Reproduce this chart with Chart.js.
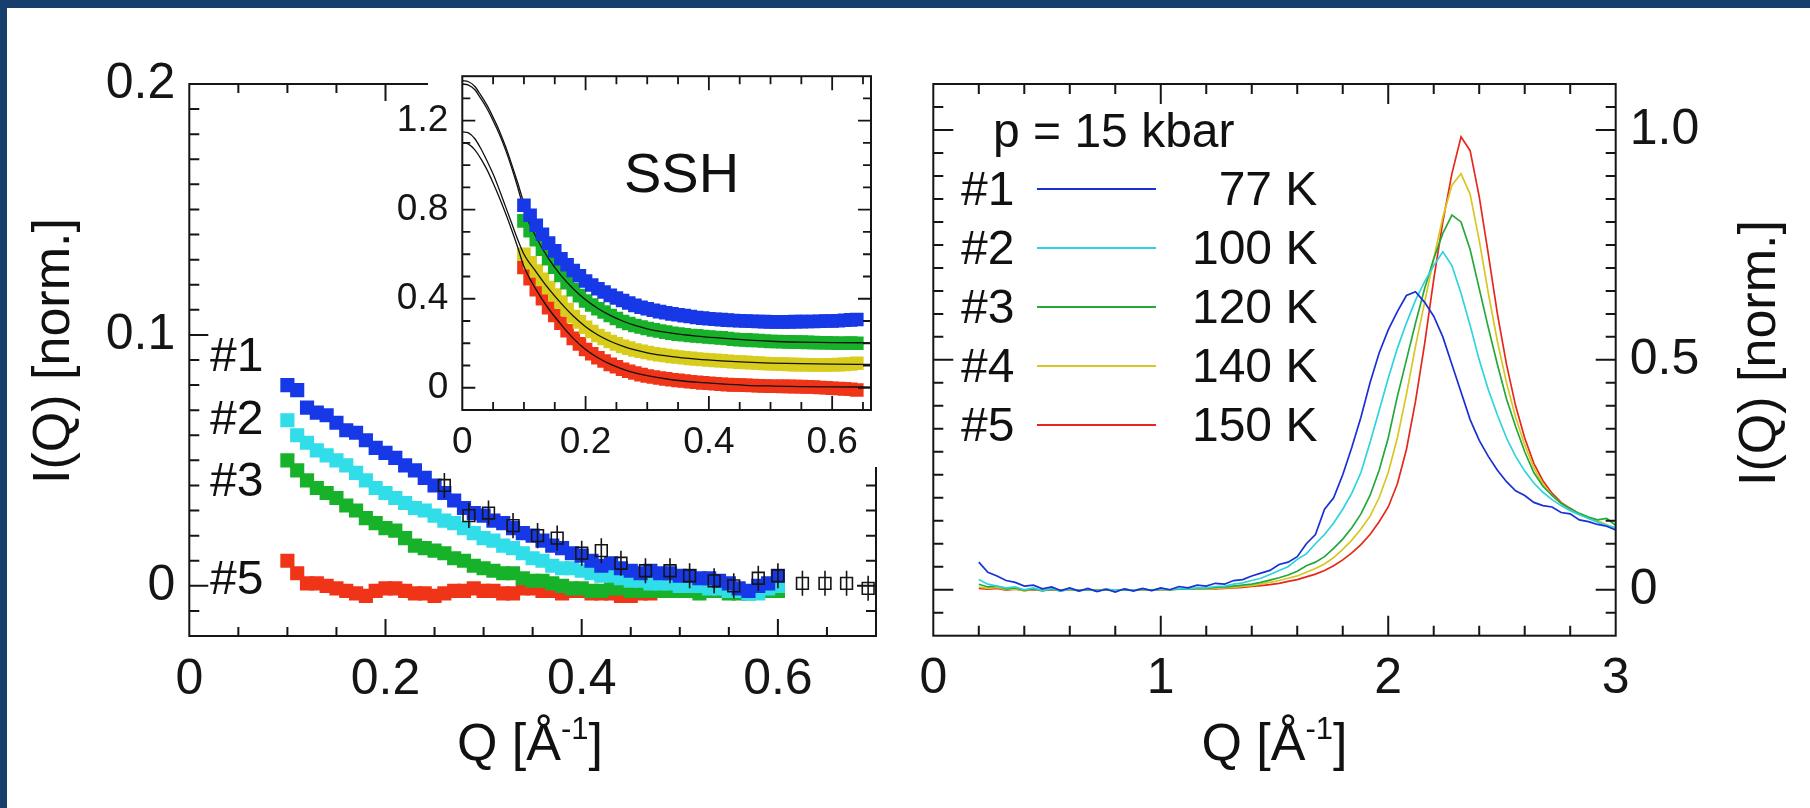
<!DOCTYPE html>
<html>
<head>
<meta charset="utf-8">
<script src="https://cdn.jsdelivr.net/npm/chart.js@4.4.1/dist/chart.umd.min.js"></script>
<style>
html,body{margin:0;padding:0;background:#fff;width:1810px;height:808px;overflow:hidden;font-family:"Liberation Sans",Arial,Helvetica,sans-serif;}
#bandTop{position:absolute;left:0;top:0;width:1810px;height:8px;background:#163f6c;z-index:5}
#bandLeft{position:absolute;left:0;top:0;width:7px;height:808px;background:#163f6c;z-index:5}
canvas{position:absolute}
.t{position:absolute;white-space:nowrap;line-height:1;color:#111;z-index:4}
.sw{position:absolute;height:2px;z-index:4}
</style>
</head>
<body>
<div id="bandTop"></div><div id="bandLeft"></div>
<canvas id="cMain" width="790" height="690" style="left:100px;top:40px;z-index:1"></canvas>
<canvas id="cInset" width="500" height="427" style="left:380px;top:40px;z-index:2"></canvas>
<canvas id="cRight" width="820" height="690" style="left:900px;top:40px;z-index:1"></canvas>
<div id="overlay"></div>
<script>
const FONT = '"Liberation Sans", Arial, Helvetica, sans-serif';

// ---------- Left panel (main): I(Q) [norm.] vs Q ----------
const mainQ = [0.10,0.11,0.12,0.13,0.14,0.15,0.16,0.17,0.18,0.19,0.20,0.21,0.22,0.23,0.24,0.25,0.26,0.27,0.28,0.29,0.30,0.31,0.32,0.33,0.34,0.35,0.36,0.37,0.38,0.39,0.40,0.41,0.42,0.43,0.44,0.45,0.46,0.47,0.48,0.49,0.50,0.51,0.52,0.53,0.54,0.55,0.56,0.57,0.58,0.59,0.60];
const mainS1 = [0.080,0.078,0.071,0.069,0.068,0.065,0.062,0.061,0.058,0.055,0.053,0.051,0.048,0.046,0.043,0.040,0.037,0.034,0.031,0.029,0.028,0.026,0.025,0.023,0.021,0.020,0.018,0.016,0.015,0.013,0.012,0.010,0.008,0.009,0.007,0.006,0.005,0.006,0.005,0.005,0.004,0.004,0.003,0.003,0.002,0.001,-0.001,-0.002,0.000,0.001,0.004];
const mainS2 = [0.066,0.060,0.057,0.054,0.052,0.050,0.048,0.045,0.042,0.039,0.037,0.035,0.033,0.031,0.030,0.028,0.026,0.025,0.023,0.021,0.019,0.018,0.016,0.015,0.013,0.011,0.010,0.008,0.007,0.007,0.006,0.005,0.004,0.004,0.003,0.002,0.002,0.001,0.001,0.001,0.000,0.000,0.000,-0.001,-0.001,-0.002,-0.002,-0.003,-0.003,-0.001,0.000];
const mainS3 = [0.050,0.046,0.042,0.039,0.037,0.035,0.032,0.030,0.027,0.025,0.023,0.022,0.019,0.016,0.015,0.014,0.013,0.011,0.010,0.008,0.007,0.006,0.005,0.005,0.003,0.002,0.002,0.001,0.000,-0.001,-0.001,-0.002,-0.002,-0.001,-0.001,-0.002,-0.002,-0.002,-0.002,-0.002,-0.002,-0.002,-0.003,-0.002,-0.002,-0.003,-0.003,-0.003,-0.002,-0.002,-0.002];
const mainS5 = [0.010,0.005,0.001,0.001,0.000,-0.001,-0.002,-0.003,-0.004,-0.002,-0.001,-0.001,-0.002,-0.003,-0.003,-0.004,-0.003,-0.002,-0.002,-0.001,-0.002,-0.002,-0.003,-0.003,-0.001,-0.001,-0.002,-0.002,-0.003,-0.002,-0.002,-0.003,-0.003,-0.003,-0.004,-0.004,-0.003,-0.003,-0.002,-0.002,-0.002];
const refQ   = [0.260,0.285,0.305,0.330,0.355,0.375,0.400,0.420,0.440,0.465,0.490,0.510,0.535,0.555,0.580,0.600,0.625,0.648,0.670,0.692];
const refI   = [0.040,0.028,0.029,0.024,0.020,0.019,0.013,0.014,0.009,0.006,0.006,0.004,0.002,0.000,0.003,0.004,0.001,0.001,0.001,-0.001];
const refErr = [0.005,0.005,0.005,0.005,0.005,0.005,0.005,0.005,0.005,0.005,0.005,0.005,0.005,0.005,0.005,0.005,0.005,0.005,0.005,0.005];
const mainXTickVals = [0,0.2,0.4,0.6];       const mainXTickText = ['0','0.2','0.4','0.6'];
const mainYTickVals = [0,0.1,0.2];           const mainYTickText = ['0','0.1','0.2'];
const mainTags = ['#1','#2','#3','#5'];

// ---------- Inset (SSH) ----------
const insetQ  = [0.10,0.11,0.12,0.13,0.14,0.15,0.16,0.17,0.18,0.19,0.20,0.21,0.22,0.23,0.24,0.25,0.26,0.27,0.28,0.29,0.30,0.31,0.32,0.33,0.34,0.35,0.36,0.37,0.38,0.39,0.40,0.41,0.42,0.43,0.44,0.45,0.46,0.47,0.48,0.49,0.50,0.51,0.52,0.53,0.54,0.55,0.56,0.57,0.58,0.59,0.60,0.61,0.62,0.63,0.64];
const insetS1 = [0.82,0.775,0.73,0.69,0.65,0.615,0.58,0.553,0.527,0.503,0.48,0.462,0.445,0.43,0.415,0.403,0.392,0.381,0.37,0.362,0.355,0.348,0.342,0.337,0.332,0.328,0.324,0.32,0.316,0.313,0.31,0.308,0.306,0.304,0.302,0.301,0.30,0.299,0.298,0.297,0.296,0.296,0.296,0.296,0.297,0.297,0.298,0.298,0.299,0.30,0.30,0.301,0.303,0.305,0.307];
const insetS3 = [0.75,0.706,0.665,0.622,0.58,0.542,0.505,0.472,0.44,0.414,0.39,0.372,0.355,0.34,0.325,0.311,0.298,0.289,0.28,0.273,0.266,0.26,0.255,0.25,0.245,0.241,0.238,0.235,0.233,0.23,0.228,0.226,0.224,0.221,0.218,0.216,0.215,0.213,0.212,0.21,0.208,0.208,0.207,0.206,0.205,0.205,0.204,0.203,0.202,0.202,0.201,0.200,0.200,0.201,0.200];
const insetS4 = [0.60,0.562,0.525,0.487,0.45,0.417,0.385,0.352,0.32,0.296,0.272,0.253,0.235,0.221,0.208,0.197,0.186,0.178,0.17,0.164,0.158,0.153,0.149,0.145,0.141,0.138,0.135,0.132,0.129,0.127,0.125,0.123,0.121,0.119,0.117,0.115,0.114,0.112,0.111,0.109,0.108,0.107,0.106,0.105,0.104,0.104,0.103,0.102,0.102,0.102,0.103,0.104,0.105,0.107,0.110];
const insetS5 = [0.54,0.49,0.44,0.40,0.36,0.325,0.29,0.256,0.222,0.197,0.172,0.153,0.135,0.12,0.105,0.094,0.083,0.074,0.066,0.059,0.053,0.048,0.044,0.04,0.036,0.033,0.03,0.027,0.025,0.022,0.02,0.018,0.016,0.014,0.013,0.012,0.011,0.01,0.009,0.008,0.007,0.007,0.006,0.006,0.005,0.005,0.004,0.003,0.001,0.000,-0.002,-0.003,-0.005,-0.007,-0.010];
const fitQ  = [0,0.01,0.02,0.03,0.04,0.05,0.06,0.07,0.08,0.09,0.10,0.12,0.14,0.16,0.18,0.20,0.22,0.24,0.26,0.28,0.30,0.34,0.38,0.42,0.46,0.50,0.55,0.60,0.663];
const fitS1 = [1.38,1.375,1.355,1.315,1.27,1.215,1.155,1.085,1.005,0.92,0.83,0.72,0.645,0.58,0.527,0.482,0.446,0.416,0.392,0.372,0.356,0.333,0.318,0.308,0.302,0.299,0.298,0.298,0.298];
const fitS3 = [1.365,1.36,1.34,1.30,1.255,1.20,1.14,1.07,0.99,0.90,0.80,0.675,0.58,0.505,0.445,0.395,0.356,0.325,0.30,0.28,0.265,0.245,0.232,0.223,0.215,0.209,0.205,0.203,0.202];
const fitS4 = [1.15,1.145,1.12,1.075,1.02,0.96,0.89,0.815,0.74,0.665,0.60,0.52,0.445,0.38,0.322,0.274,0.237,0.209,0.187,0.17,0.157,0.14,0.129,0.121,0.115,0.111,0.108,0.106,0.105];
const fitS5 = [1.10,1.095,1.07,1.03,0.98,0.92,0.855,0.785,0.71,0.63,0.545,0.44,0.355,0.285,0.222,0.172,0.135,0.106,0.084,0.067,0.054,0.036,0.025,0.017,0.011,0.008,0.005,0.004,0.003];
const insetXTickVals = [0,0.2,0.4,0.6];      const insetXTickText = ['0','0.2','0.4','0.6'];
const insetYTickVals = [0,0.4,0.8,1.2];      const insetYTickText = ['0','0.4','0.8','1.2'];
const insetTitle = 'SSH';

// ---------- Right panel: p = 15 kbar ----------
const rightQ = [0.20,0.24,0.28,0.32,0.36,0.40,0.44,0.48,0.52,0.56,0.60,0.64,0.68,0.72,0.76,0.80,0.84,0.88,0.92,0.96,1.00,1.04,1.08,1.12,1.16,1.20,1.24,1.28,1.32,1.36,1.40,1.44,1.48,1.52,1.56,1.60,1.64,1.68,1.72,1.76,1.80,1.84,1.88,1.92,1.96,2.00,2.04,2.08,2.12,2.16,2.20,2.24,2.28,2.32,2.36,2.40,2.44,2.48,2.52,2.56,2.60,2.64,2.68,2.72,2.76,2.80,2.84,2.88,2.92,2.96,3.00];
const right1 = [0.060,0.038,0.030,0.020,0.016,0.008,0.010,0.002,0.006,-0.002,0.004,-0.003,0.003,-0.004,0.001,-0.005,0.002,-0.003,0.003,-0.002,0.004,0.000,0.007,0.004,0.010,0.008,0.014,0.012,0.020,0.022,0.030,0.036,0.042,0.055,0.060,0.072,0.100,0.120,0.175,0.200,0.250,0.310,0.375,0.450,0.515,0.565,0.605,0.640,0.648,0.625,0.595,0.550,0.490,0.430,0.370,0.325,0.290,0.260,0.235,0.215,0.205,0.190,0.183,0.180,0.168,0.165,0.152,0.148,0.142,0.138,0.130];
const right2 = [0.022,0.012,0.008,0.004,0.006,0.000,0.004,-0.002,0.003,-0.003,0.002,-0.002,0.001,-0.003,0.002,-0.002,0.001,-0.001,0.002,-0.002,0.002,0.000,0.003,0.002,0.004,0.004,0.007,0.008,0.012,0.015,0.020,0.025,0.033,0.042,0.050,0.066,0.078,0.100,0.120,0.145,0.175,0.210,0.255,0.320,0.390,0.460,0.525,0.580,0.630,0.670,0.705,0.735,0.705,0.645,0.575,0.500,0.435,0.380,0.330,0.290,0.258,0.232,0.212,0.196,0.183,0.172,0.163,0.155,0.147,0.140,0.135];
const right3 = [0.012,0.006,0.008,0.002,0.004,-0.001,0.002,-0.002,0.001,-0.002,0.001,-0.002,0.000,-0.002,0.001,-0.002,0.000,-0.001,0.001,-0.001,0.001,0.000,0.002,0.001,0.003,0.003,0.005,0.006,0.008,0.010,0.012,0.016,0.021,0.026,0.032,0.040,0.052,0.060,0.072,0.090,0.110,0.135,0.165,0.205,0.260,0.330,0.420,0.500,0.580,0.655,0.720,0.775,0.815,0.800,0.740,0.655,0.570,0.490,0.415,0.355,0.300,0.255,0.225,0.205,0.188,0.176,0.166,0.158,0.152,0.155,0.140];
const right4 = [0.006,0.003,0.005,0.000,0.002,-0.002,0.001,-0.002,0.001,-0.002,0.000,-0.002,0.000,-0.001,0.001,-0.002,0.000,-0.001,0.000,-0.001,0.001,0.000,0.001,0.001,0.002,0.002,0.003,0.004,0.005,0.007,0.009,0.012,0.016,0.020,0.025,0.030,0.038,0.046,0.056,0.070,0.088,0.108,0.132,0.160,0.200,0.255,0.330,0.425,0.530,0.625,0.720,0.810,0.880,0.905,0.860,0.760,0.645,0.540,0.450,0.375,0.315,0.265,0.230,0.205,0.188,0.175,0.165,0.156,0.150,0.142,0.132];
const right5 = [0.003,0.001,0.003,-0.001,0.001,-0.002,0.000,-0.002,0.000,-0.002,0.000,-0.001,0.000,-0.001,0.000,-0.002,0.000,-0.001,0.000,-0.001,0.000,0.000,0.001,0.001,0.001,0.002,0.002,0.003,0.004,0.005,0.007,0.009,0.011,0.014,0.018,0.022,0.028,0.034,0.042,0.052,0.065,0.080,0.098,0.120,0.148,0.180,0.230,0.305,0.410,0.535,0.675,0.800,0.905,0.985,0.955,0.855,0.730,0.600,0.490,0.400,0.330,0.275,0.237,0.210,0.190,0.177,0.165,0.156,0.148,0.140,0.132];
const rightXTickVals = [0,1,2,3];            const rightXTickText = ['0','1','2','3'];
const rightYTickVals = [0,0.5,1.0];          const rightYTickText = ['0','0.5','1.0'];
const rightTags  = ['#1','#2','#3','#4','#5'];
const rightTemps = ['77 K','100 K','120 K','140 K','150 K'];
const rightHeader = 'p = 15 kbar';

// ---------- styles ----------
const COL = {blue:'#1638e6', cyan:'#30dde8', green:'#18b22a', yellow:'#d8cc1c', red:'#f03418'};
const LCOL = ['#1a30d6','#2fd3de','#25a83a','#d8c622','#e6281c'];
const INK = '#151515';

function pts(xs, ys){ return ys.map((v,i)=>({x:xs[i], y:v})); }
function tickText(vals, texts){
  return v => { for (let i=0;i<vals.length;i++) if (Math.abs(v-vals[i])<1e-7) return texts[i]; return ''; };
}
function isMult(v, step){ const r = v/step; return Math.abs(r-Math.round(r))<1e-6; }

function framePlugin(o){
  return {
    id:'frame_'+o.name,
    beforeDraw(chart){
      if (!o.bg) return;
      const c = chart.ctx; c.save(); c.fillStyle='#fff';
      c.fillRect(o.bg.x, 0, chart.width-o.bg.x, o.bg.h); c.restore();
    },
    afterDatasetsDraw(chart){
      const ctx = chart.ctx, a = chart.chartArea;
      const xs = chart.scales.x, ys = chart.scales.y;
      ctx.save();
      if (o.errors) o.errors(chart, ctx);
      ctx.strokeStyle = INK; ctx.lineWidth = o.lw; ctx.lineCap='butt';
      ctx.beginPath();
      xs.ticks.forEach(t=>{
        const p = xs.getPixelForValue(t.value);
        if (p-a.left<2 || a.right-p<2) return;
        const L = isMult(t.value, o.xMajor) ? o.xMaj : o.xMin;
        ctx.moveTo(p,a.bottom); ctx.lineTo(p,a.bottom-L);
        ctx.moveTo(p,a.top); ctx.lineTo(p,a.top+L);
      });
      ys.ticks.forEach(t=>{
        const p = ys.getPixelForValue(t.value);
        if (p-a.top<2 || a.bottom-p<2) return;
        const L = isMult(t.value, o.yMajor) ? o.yMaj : o.yMin;
        ctx.moveTo(a.left,p); ctx.lineTo(a.left+L,p);
        ctx.moveTo(a.right,p); ctx.lineTo(a.right-L,p);
      });
      ctx.stroke();
      ctx.lineWidth = o.frameW;
      ctx.strokeRect(a.left, a.top, a.right-a.left, a.bottom-a.top);
      ctx.restore();
    }
  };
}

function baseOptions(o){
  return {
    responsive:false, animation:false, devicePixelRatio:1, events:[],
    layout:{padding:o.padding, autoPadding:false},
    plugins:{legend:{display:false}, tooltip:{enabled:false}},
    scales:{
      x:{type:'linear', min:o.xMin, max:o.xMax, bounds:'data',
         grid:{display:false, drawTicks:false}, border:{display:false},
         ticks:{stepSize:o.xStep, autoSkip:false, maxRotation:0, includeBounds:false, padding:o.xPad, color:INK,
                font:{family:FONT, size:o.font, lineHeight:1.2}, callback:tickText(o.xVals,o.xText)},
         afterFit:s=>{s.height=o.xH;}},
      y:{type:'linear', position:o.yPos||'left', min:o.yMin, max:o.yMax,
         grid:{display:false, drawTicks:false}, border:{display:false},
         ticks:{stepSize:o.yStep, autoSkip:false, includeBounds:false, padding:o.yPad, color:INK,
                font:{family:FONT, size:o.font, lineHeight:1.2}, callback:tickText(o.yVals,o.yText)},
         afterFit:s=>{s.width=o.yW;}}
    }
  };
}

// ---------- main chart ----------
const sq = (data,color,r,order)=>({data, pointStyle:'rect', pointRadius:r, pointHoverRadius:r,
  backgroundColor:color, borderWidth:0, showLine:false, order});
new Chart(document.getElementById('cMain'), {
  type:'scatter',
  data:{datasets:[
    {label:'reference', data:pts(refQ,refI), pointStyle:'rect', pointRadius:8.3, backgroundColor:'rgba(0,0,0,0)',
     borderColor:INK, borderWidth:1.6, order:0},
    Object.assign(sq(pts(mainQ,mainS1),COL.blue,10,1),{label:'#1'}),
    Object.assign(sq(pts(mainQ,mainS2),COL.cyan,10,2),{label:'#2'}),
    Object.assign(sq(pts(mainQ,mainS3),COL.green,10,3),{label:'#3'}),
    Object.assign(sq(pts(mainQ,mainS5),COL.red,10,4),{label:'#5'})
  ]},
  options:baseOptions({padding:{left:0,top:34,right:9,bottom:0}, xMin:0,xMax:0.7,xStep:0.05,yMin:-0.02,yMax:0.2,yStep:0.01,
    xVals:mainXTickVals,xText:mainXTickText,yVals:mainYTickVals,yText:mainYTickText,
    font:50,xPad:14,yPad:14,xH:94,yW:89.3}),
  plugins:[framePlugin({name:'main', lw:2, frameW:2, xMajor:0.2, xMaj:17, xMin:9, yMajor:0.1, yMaj:19, yMin:10,
    errors:(chart,ctx)=>{
      const xs=chart.scales.x, ys=chart.scales.y;
      ctx.strokeStyle=INK; ctx.lineWidth=1.6; ctx.beginPath();
      refQ.forEach((q,i)=>{ const px=xs.getPixelForValue(q);
        ctx.moveTo(px, ys.getPixelForValue(refI[i]-refErr[i])); ctx.lineTo(px, ys.getPixelForValue(refI[i]+refErr[i])); });
      ctx.stroke();
    }})]
});

// ---------- inset chart ----------
const fitLine = (ys,order)=>({label:'fit', data:pts(fitQ,ys), showLine:true, pointRadius:0, borderColor:'#111',
  borderWidth:1.3, cubicInterpolationMode:'monotone', fill:false, order});
new Chart(document.getElementById('cInset'), {
  type:'scatter',
  data:{datasets:[
    Object.assign(sq(pts(insetQ,insetS1),COL.blue,9.6,0),{label:'#1'}),
    fitLine(fitS1,1), fitLine(fitS3,1), fitLine(fitS4,1), fitLine(fitS5,1),
    Object.assign(sq(pts(insetQ,insetS3),COL.green,9.6,2),{label:'#3'}),
    Object.assign(sq(pts(insetQ,insetS4),COL.yellow,9.6,3),{label:'#4'}),
    Object.assign(sq(pts(insetQ,insetS5),COL.red,9.6,4),{label:'#5'})
  ]},
  options:baseOptions({padding:{left:0,top:34,right:9,bottom:0}, xMin:0,xMax:0.663,xStep:0.05,yMin:-0.1,yMax:1.4,yStep:0.1,
    xVals:insetXTickVals,xText:insetXTickText,yVals:insetYTickVals,yText:insetYTickText,
    font:37,xPad:11,yPad:14,xH:57,yW:82.3}),
  plugins:[framePlugin({name:'inset', bg:{x:48,h:427}, lw:1.8, frameW:2, xMajor:0.2, xMaj:14, xMin:8, yMajor:0.4, yMaj:13, yMin:8})]
});

// ---------- right chart ----------
const rightSeries = [right1,right2,right3,right4,right5];
new Chart(document.getElementById('cRight'), {
  type:'scatter',
  data:{datasets: rightSeries.map((s,i)=>({label:rightTags[i]+' '+rightTemps[i], data:pts(rightQ,s), showLine:true, pointRadius:0,
     borderColor:LCOL[i], borderWidth:1.7, fill:false, order:i}))},
  options:baseOptions({padding:{left:33.3,top:34,right:0,bottom:0}, xMin:0,xMax:3,xStep:0.2,yMin:-0.1,yMax:1.1,yStep:0.05,
    xVals:rightXTickVals,xText:rightXTickText,yVals:rightYTickVals,yText:rightYTickText, yPos:'right',
    font:50,xPad:14,yPad:14,xH:94.3,yW:104.3}),
  plugins:[framePlugin({name:'right', lw:2, frameW:2, xMajor:1, xMaj:20, xMin:10, yMajor:0.5, yMaj:20, yMin:10})]
});

// ---------- text overlays ----------
const ov = document.getElementById('overlay');
function addText(txt, x, y, size, tf, html){
  const d = document.createElement('div'); d.className='t';
  d.style.left=x+'px'; d.style.top=y+'px'; d.style.fontSize=size+'px';
  d.style.transform = tf || 'translate(0,-50%)';
  if (html) d.innerHTML = txt; else d.textContent = txt;
  ov.appendChild(d); return d;
}
const xTitle = 'Q [Å<span style="font-size:31px;position:relative;top:-21px">-1</span>]';
addText(xTitle, 530, 742, 52, 'translate(-50%,-50%)', true);
addText(xTitle, 1274.5, 742, 52, 'translate(-50%,-50%)', true);
addText('I(Q) [norm.]', 50.5, 351, 52, 'translate(-50%,-50%) rotate(-90deg)');
addText('I(Q) [norm.]', 1756.5, 352.5, 52, 'translate(-50%,-50%) rotate(-90deg)');
addText(insetTitle, 681.5, 173, 56, 'translate(-50%,-50%)');
const mainTagY = [355, 418, 480, 578];
mainTags.forEach((t,i)=>addText(t, 210, mainTagY[i], 48));
addText(rightHeader, 993, 131, 48);
rightTags.forEach((t,i)=>{
  const y = 188.5 + i*59.2;
  addText(t, 961, y, 48);
  addText(rightTemps[i], 1317.4, y, 48, 'translate(-100%,-50%)');
  const sw = document.createElement('div'); sw.className='sw';
  sw.style.left='1036.6px'; sw.style.top=(y-1)+'px'; sw.style.width='119px'; sw.style.background=LCOL[i];
  ov.appendChild(sw);
});
</script>
</body>
</html>
